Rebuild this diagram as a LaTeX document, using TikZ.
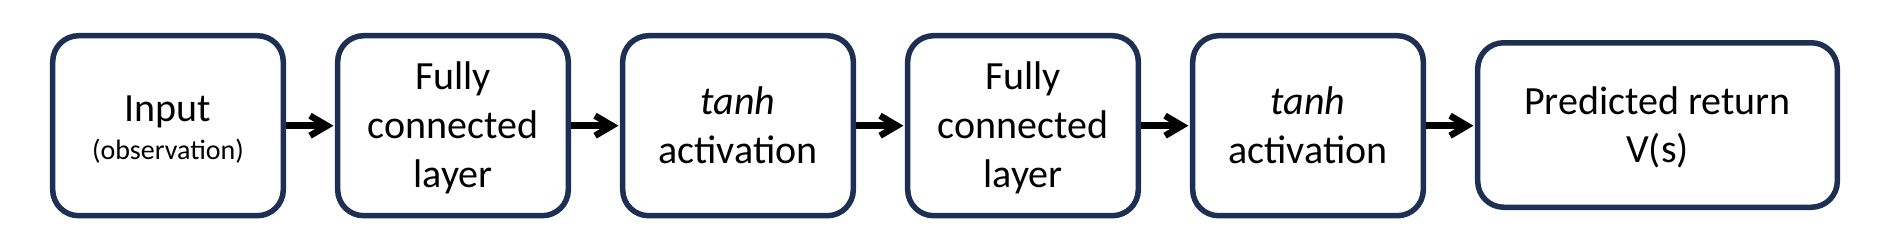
\documentclass[tikz,border=0pt]{standalone}
\usepackage{fontspec}
\setmainfont{Carlito}
\usetikzlibrary{arrows.meta}
\definecolor{boxnavy}{RGB}{29,48,84}
\begin{document}
\begin{tikzpicture}[x=1pt,y=-1pt,
  box/.style={draw=boxnavy, line width=5.5pt, rounded corners=26pt, minimum width=230.6pt, minimum height=180pt, inner sep=0pt, fill=white},
  widebox/.style={box, minimum width=359.6pt, minimum height=164.5pt},
  big/.style={anchor=base, inner sep=0pt, font=\fontsize{40}{48}\selectfont},
  small/.style={anchor=base, inner sep=0pt, font=\fontsize{28}{34}\selectfont},
  conn/.style={-{Straight Barb[length=17pt,width=20pt]}, line width=6.5pt, black, shorten >=1.5pt}]
\useasboundingbox[fill=white] (0,0) rectangle (1892,250);
\node[box] (b1) at (168,125.7) {};
\node[box] (b2) at (453,125.7) {};
\node[box] (b3) at (738,125.7) {};
\node[box] (b4) at (1023,125.7) {};
\node[box] (b5) at (1308,125.7) {};
\node[widebox] (b6) at (1657.5,125) {};
\node[big] (t1a) at (168,121.7) {Input};
\node[small] (t1b) at (168,159) {(observation)};
\node[big] (t2a) at (453,89.3) {Fully};
\node[big] (t2b) at (453,138.3) {connected};
\node[big] (t2c) at (453,187.3) {layer};
\node[big] (t3a) at (738,114.3) {\textit{tanh}};
\node[big] (t3b) at (738,163.3) {activation};
\node[big] (t4a) at (1023,89.3) {Fully};
\node[big] (t4b) at (1023,138.3) {connected};
\node[big] (t4c) at (1023,187.3) {layer};
\node[big] (t5a) at (1308,114.3) {\textit{tanh}};
\node[big] (t5b) at (1308,163.3) {activation};
\node[big] (t6a) at (1657.5,114.5) {Predicted return};
\node[big] (t6b) at (1657.5,162.5) {V(s)};
\draw[conn] (b1.east) -- (b2.west);
\draw[conn] (b2.east) -- (b3.west);
\draw[conn] (b3.east) -- (b4.west);
\draw[conn] (b4.east) -- (b5.west);
\draw[conn] (b5.east) -- (b5.east -| b6.west);
\end{tikzpicture}
\end{document}
